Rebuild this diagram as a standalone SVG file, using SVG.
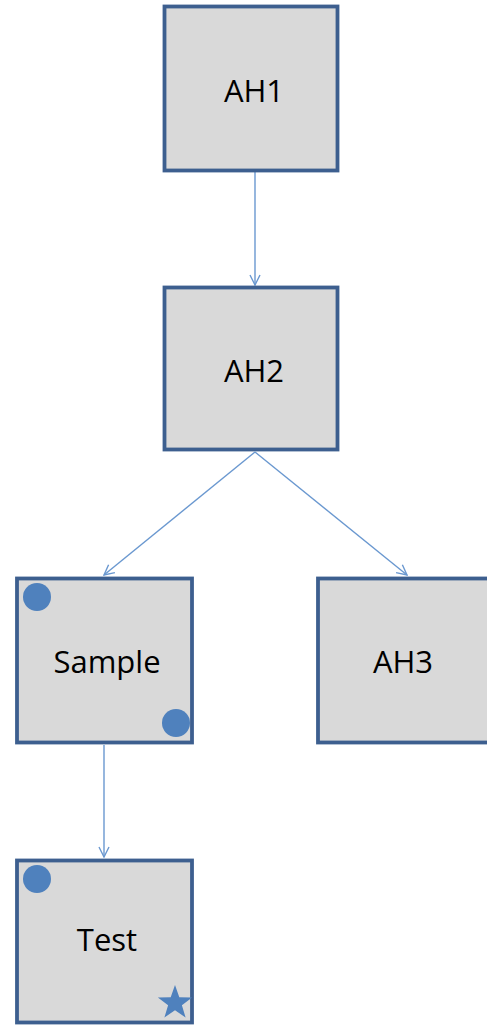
<svg xmlns="http://www.w3.org/2000/svg" width="487" height="1025" viewBox="0 0 487 1025">
  <defs>
    <style>
      .box { fill: #d9d9d9; stroke: #3d5f8f; stroke-width: 3.8; }
      .lbl { font-family: "Open Sans", "Noto Sans", sans-serif; font-size: 31px; fill: #000; text-anchor: middle; }
      .edge { fill: none; stroke: #6a98d0; stroke-width: 1.4; }
      .mark { fill: #4f81bd; }
    </style>
    <marker id="arrow" viewBox="0 0 12 12" refX="11" refY="6" markerWidth="12" markerHeight="12" markerUnits="userSpaceOnUse" orient="auto">
      <path d="M1,1 L11,6 L1,11" fill="none" stroke="#6a98d0" stroke-width="1.4"/>
    </marker>
  </defs>
  <rect width="487" height="1025" fill="#ffffff"/>

  <g id="connectors">
    <line class="edge" x1="255" y1="172" x2="255" y2="285" marker-end="url(#arrow)"/>
    <line class="edge" x1="255" y1="452" x2="104" y2="575" marker-end="url(#arrow)"/>
    <line class="edge" x1="255" y1="452" x2="407" y2="575" marker-end="url(#arrow)"/>
    <line class="edge" x1="104" y1="745" x2="104" y2="857" marker-end="url(#arrow)"/>
  </g>

  <g id="AH1">
    <rect class="box" x="164.5" y="6.5" width="173" height="164"/>
    <text class="lbl" x="254" y="102">AH1</text>
  </g>

  <g id="AH2">
    <rect class="box" x="164.5" y="287.5" width="173" height="162"/>
    <text class="lbl" x="254" y="382">AH2</text>
  </g>

  <g id="Sample">
    <rect class="box" x="17" y="578.5" width="175" height="164"/>
    <text class="lbl" x="107" y="673">Sample</text>
    <circle class="mark" cx="37" cy="597" r="14"/>
    <circle class="mark" cx="176" cy="723" r="14"/>
  </g>

  <g id="AH3">
    <rect class="box" x="318" y="578.5" width="175" height="164"/>
    <text class="lbl" x="403" y="673">AH3</text>
  </g>

  <g id="Test">
    <rect class="box" x="17" y="860.5" width="175" height="162"/>
    <text class="lbl" x="107" y="951">Test</text>
    <circle class="mark" cx="37" cy="879" r="14"/>
    <polygon class="mark" points="175,985 179.3,997.2 192.1,997.5 181.9,1005.3 185.6,1017.5 175,1010.3 164.4,1017.5 168.1,1005.3 157.9,997.5 170.7,997.2"/>
  </g>
</svg>
